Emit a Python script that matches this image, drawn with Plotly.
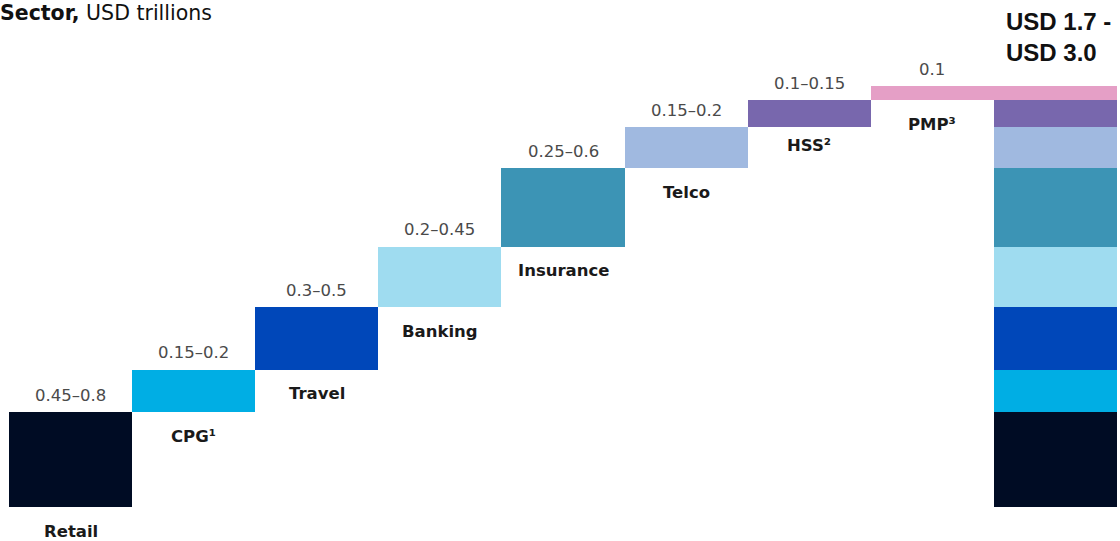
import plotly.graph_objects as go

# Data (USD trillions; bar sizes)
sectors = ["Retail", "CPG", "Travel", "Banking", "Insurance", "Telco", "HSS", "PMP"]
sector_labels = ["Retail", "CPG¹", "Travel", "Banking", "Insurance", "Telco", "HSS²", "PMP³"]
range_labels = ["0.45–0.8", "0.15–0.2", "0.3–0.5", "0.2–0.45", "0.25–0.6", "0.15–0.2", "0.1–0.15", "0.1"]
bar_values = [0.53, 0.24, 0.35, 0.34, 0.44, 0.23, 0.15, 0.08]
colors = ["#000c24", "#00aee4", "#0047b9", "#9fdcf0", "#3c94b5", "#a0b9e0", "#7867ad", "#e59fc6"]
total_label = "<b>USD 1.7 -<br>USD 3.0</b>"
total_cat = "Total"

categories = sectors + [total_cat]

# label offsets below bars (pixels), style only
name_shift = {"HSS": -18}

fig = go.Figure()
cum = 0.0
bases = []
for name, v, c in zip(sectors, bar_values, colors):
    bases.append(cum)
    fig.add_trace(go.Bar(
        x=[name, total_cat], y=[v, v], base=[cum, cum],
        marker=dict(color=c, line=dict(width=0)),
        width=1.0, showlegend=False, hoverinfo="skip",
    ))
    cum += v

annotations = []
for name, lab, rl, b, v in zip(sectors, sector_labels, range_labels, bases, bar_values):
    annotations.append(dict(x=name, y=b + v, xref="x", yref="y", text=rl,
                            showarrow=False, yanchor="middle", yshift=17,
                            font=dict(size=16.5, color="#4a4a4a", family="DejaVu Sans")))
    annotations.append(dict(x=name, y=b, xref="x", yref="y", text="<b>" + lab + "</b>",
                            showarrow=False, yanchor="middle", yshift=name_shift.get(name, -24),
                            font=dict(size=16.5, color="#1a1a1a", family="DejaVu Sans")))

W, H = 1120, 541
ml, mr, mt, mb = 9, 3, 20, 34
pw = W - ml - mr
ph = H - mt - mb

annotations.append(dict(x=-(ml + 2) / pw, y=1 + (mt - 13) / ph, xref="paper", yref="paper",
                        text="<b>Sector,</b> USD trillions", showarrow=False,
                        xanchor="left", yanchor="middle",
                        font=dict(size=20.5, color="#111111", family="DejaVu Sans")))
annotations.append(dict(x=(1004 - ml) / pw, y=1 + (mt - 6) / ph, xref="paper", yref="paper",
                        text=total_label, showarrow=False, align="left",
                        xanchor="left", yanchor="top",
                        font=dict(size=24, color="#111111", family="Liberation Sans, Arial")))

top_px = 86
yr = cum * ph / (H - mb - top_px)

fig.update_layout(
    width=W, height=H,
    margin=dict(l=ml, r=mr, t=mt, b=mb),
    paper_bgcolor="white", plot_bgcolor="white",
    barmode="overlay", bargap=0,
    xaxis=dict(categoryorder="array", categoryarray=categories, range=[-0.5, 8.5],
               showticklabels=False, showgrid=False, zeroline=False, showline=False, ticks=""),
    yaxis=dict(range=[0, yr], showticklabels=False, showgrid=False, zeroline=False,
               showline=False, ticks=""),
    annotations=annotations,
)

fig.write_html("out.html", config={"displayModeBar": False},
               post_script="document.body.style.margin='0';document.body.style.overflow='hidden';")
